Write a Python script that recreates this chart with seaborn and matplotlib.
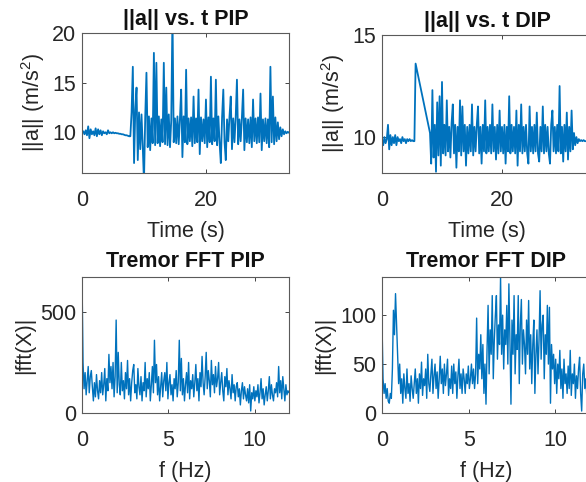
import numpy as np
import matplotlib
matplotlib.use("Agg")
import matplotlib.pyplot as plt
import seaborn as sns

# ---- data ----
# ||a|| PIP, sampled every 0.2 s from t = 0
pip_dt = 0.2
pip_acc = [
    9.9, 10.1, 9.8, 10.2, 9.7, 10.6, 9.4, 10.3, 9.8, 10.1,
    9.7, 10.4, 9.6, 10.3, 9.8, 10.2, 9.7, 10.1, 9.9, 10.0,
    9.8, 10.2, 9.9, 10.0, 9.9, 10.0, 9.9, 9.95, 9.9, 9.9,
    9.85, 9.85, 9.8, 9.8, 9.75, 9.7, 9.7, 9.65, 9.6, 9.6,
    12.0, 16.6, 6.9, 12.3, 14.5, 7.2, 12.0, 8.3, 11.8, 8.6,
    5.0, 11.5, 16.0, 8.5, 11.6, 8.2, 11.4, 8.9, 18.0, 8.7,
    17.0, 8.9, 11.6, 8.6, 11.3, 9.0, 17.0, 8.8, 14.5, 8.7,
    11.8, 8.5, 11.2, 22.0, 9.0, 11.4, 8.9, 11.6, 8.8, 11.3,
    14.3, 7.5, 11.6, 9.0, 16.3, 8.8, 11.4, 9.1, 11.5, 8.6,
    13.6, 8.9, 11.4, 9.0, 14.3, 7.8, 11.5, 9.1, 11.3, 8.9,
    13.3, 8.5, 11.5, 9.0, 15.6, 8.8, 11.4, 9.1, 15.3, 8.7,
    11.6, 8.9, 6.9, 11.5, 14.3, 9.0, 7.2, 11.3, 9.1, 11.6,
    13.6, 8.3, 11.4, 9.0, 11.5, 15.3, 8.8, 11.3, 9.1, 11.5,
    14.3, 8.2, 11.4, 9.0, 11.3, 8.9, 11.5, 8.5, 13.3, 9.1,
    11.4, 8.9, 11.5, 9.0, 13.9, 8.2, 11.3, 9.1, 11.4, 8.9,
    11.3, 8.5, 16.6, 9.0, 13.6, 8.8, 11.5, 9.1, 11.0, 9.3,
    10.5, 9.6, 10.3, 9.8, 10.1, 9.9, 10.05, 9.95,
]

# ||a|| DIP: two recorded stretches with a gap between 5.6 s and 8.0 s
dip_dt = 0.2
dip_start_a = 0.0
dip_acc_a = [
    9.8, 9.6, 10.0, 9.7, 9.9, 10.6, 9.4, 10.1, 9.6, 10.0,
    9.7, 10.1, 9.6, 10.0, 9.8, 9.9, 9.7, 10.0, 9.8, 9.9,
    9.7, 9.9, 9.8, 9.9, 9.8, 9.85, 9.8, 9.8, 13.6,
]
dip_start_b = 8.0
dip_acc_b = [
    10.2, 8.7, 12.3, 9.0, 10.6, 8.3, 11.7, 9.1, 12.0, 8.6,
    12.7, 9.2, 10.6, 9.1, 11.8, 9.3, 10.5, 9.0, 10.7, 11.6,
    9.2, 10.6, 8.5, 10.5, 9.3, 11.8, 9.1, 11.5, 9.3, 10.6,
    8.6, 10.5, 9.2, 10.6, 9.3, 11.6, 9.1, 10.5, 9.3, 10.6,
    11.5, 9.2, 10.5, 8.7, 10.6, 9.3, 11.8, 9.2, 10.5, 9.3,
    10.6, 9.2, 11.6, 9.3, 10.5, 8.9, 10.6, 9.2, 11.3, 9.3,
    10.5, 9.2, 10.6, 8.7, 10.5, 9.3, 12.0, 9.2, 10.6, 9.3,
    10.5, 9.2, 11.3, 8.6, 10.6, 9.3, 11.6, 9.2, 10.5, 9.3,
    10.6, 9.2, 8.7, 11.5, 9.3, 10.5, 9.2, 10.6, 9.3, 11.2,
    9.2, 8.8, 10.5, 9.3, 11.5, 9.2, 10.6, 9.3, 10.5, 9.2,
    8.7, 10.6, 11.3, 9.3, 10.5, 9.2, 10.6, 9.3, 12.5, 9.2,
    10.5, 8.8, 10.6, 9.3, 11.2, 8.9, 10.5, 9.3, 11.3, 9.4,
    10.2, 9.6, 10.0, 9.7, 9.9, 9.8, 9.85, 9.8, 9.85, 9.8,
    9.8,
]

# |fft(X)|, sampled every 0.06 Hz from 0
fft_df = 0.06
fft_pip = [
    673, 250, 120, 200, 90, 160, 230, 100, 180, 210,
    130, 60, 150, 80, 190, 110, 70, 160, 100, 200,
    90, 140, 220, 60, 170, 110, 290, 150, 230, 120,
    250, 80, 180, 460, 100, 300, 140, 90, 250, 110,
    160, 70, 200, 120, 260, 90, 170, 60, 150, 210,
    240, 100, 140, 70, 220, 130, 90, 180, 60, 150,
    110, 250, 80, 170, 120, 200, 60, 140, 230, 100,
    360, 150, 240, 90, 180, 60, 130, 200, 80, 160,
    200, 110, 250, 70, 150, 190, 90, 140, 60, 170,
    120, 210, 80, 150, 360, 110, 270, 90, 170, 60,
    140, 200, 100, 250, 70, 160, 120, 190, 80, 150,
    240, 110, 170, 60, 200, 130, 280, 150, 90, 180,
    300, 120, 210, 160, 80, 260, 140, 190, 100, 230,
    130, 170, 250, 90, 150, 200, 110, 60, 180, 130,
    220, 90, 160, 120, 70, 190, 100, 140, 60, 130,
    150, 80, 120, 40, 110, 150, 70, 130, 90, 60,
    120, 50, 140, 10, 100, 70, 130, 60, 110, 80,
    140, 50, 100, 170, 70, 120, 40, 90, 130, 60,
    110, 180, 70, 140, 90, 60, 120, 100, 150, 80,
    230, 100, 160, 70, 180, 120, 60, 140, 90, 110,
    100,
]
fft_dip = [
    92, 35, 20, 30, 15, 25, 12, 10, 20, 15,
    45, 105, 80, 122, 90, 60, 30, 50, 20, 35,
    10, 40, 25, 15, 45, 20, 30, 12, 38, 25,
    15, 30, 45, 20, 35, 10, 40, 25, 52, 18,
    35, 28, 45, 15, 60, 30, 22, 40, 55, 20,
    38, 50, 25, 42, 15, 35, 58, 30, 45, 20,
    50, 28, 40, 55, 18, 35, 25, 48, 20, 50,
    30, 42, 15, 38, 55, 25, 40, 20, 45, 35,
    20, 40, 30, 48, 25, 35, 50, 30, 45, 25,
    40, 97, 30, 60, 45, 80, 35, 70, 20, 50,
    9, 65, 110, 40, 85, 60, 120, 35, 75, 100,
    120, 55, 90, 70, 139, 60, 100, 45, 85, 70,
    110, 50, 132, 75, 9, 95, 60, 120, 40, 80,
    65, 120, 30, 90, 116, 50, 85, 70, 40, 95,
    60, 115, 45, 80, 30, 70, 95, 20, 60, 85,
    40, 75, 125, 55, 90, 100, 35, 80, 60, 110,
    50, 108, 10, 70, 45, 60, 30, 55, 20, 50,
    35, 64, 25, 45, 15, 55, 30, 40, 20, 48,
    25, 64, 18, 40, 30, 50, 15, 38, 25, 45,
    57, 20, 2, 40, 50, 25, 35, 15, 40, 30,
    35,
]

pip_t = pip_dt * np.arange(len(pip_acc))
dip_t = np.concatenate([dip_start_a + dip_dt * np.arange(len(dip_acc_a)),
                        dip_start_b + dip_dt * np.arange(len(dip_acc_b))])
dip_acc = dip_acc_a + dip_acc_b
f_pip = fft_df * np.arange(len(fft_pip))
f_dip = fft_df * np.arange(len(fft_dip))

# ---- style ----
sns.set_style("white")
plt.rcParams['font.family'] = ['Liberation Sans', 'DejaVu Sans']
plt.rcParams['mathtext.fontset'] = 'custom'
plt.rcParams['mathtext.rm'] = 'Liberation Sans'
plt.rcParams['mathtext.it'] = 'Liberation Sans'
plt.rcParams['mathtext.default'] = 'regular'

line_col = '#0072BD'
ink = '#262626'
fs = 15.5
W, H = 586, 482
fig = plt.figure(figsize=(W / 100, H / 100), dpi=100)


def make_ax(left, top, width, height):
    return fig.add_axes([left / W, 1 - (top + height) / H, width / W, height / H])


panels = [
    # (left, top, width, height), x, y, title, xlabel, ylabel, xlim, ylim, xticks, yticks
    ((82, 33, 207, 140), pip_t, pip_acc, '||a|| vs. t PIP', 'Time (s)',
     '||a|| (m/s$^2$)', (0, 33.4), (5.9, 20), [0, 20], [10, 15, 20]),
    ((382, 35, 210, 138), dip_t, dip_acc, '||a|| vs. t DIP', 'Time (s)',
     '||a|| (m/s$^2$)', (0, 35), (8.24, 15), [0, 20], [10, 15]),
    ((82, 277, 207, 136), f_pip, fft_pip, 'Tremor FFT PIP', 'f (Hz)',
     '|fft(X)|', (0, 12), (0, 673), [0, 5, 10], [0, 500]),
    ((382, 277, 208, 136), f_dip, fft_dip, 'Tremor FFT DIP', 'f (Hz)',
     '|fft(X)|', (0, 12), (0, 139), [0, 5, 10], [0, 50, 100]),
]

for i, (box, xs, ys, title, xl, yl, xlim, ylim, xt, yt) in enumerate(panels):
    ax = make_ax(*box)
    sns.lineplot(x=xs, y=ys, ax=ax, color=line_col,
                 linewidth=1.3 if i < 2 else 1.0,
                 sort=False, estimator=None)
    ax.set_xlim(*xlim)
    ax.set_ylim(*ylim)
    ax.set_xticks(xt)
    ax.set_yticks(yt)
    ax.tick_params(axis='x', direction='in', length=3, width=0.6, top=True,
                   bottom=True, pad=12.5, labelsize=fs, colors=ink)
    ax.tick_params(axis='y', direction='in', length=3, width=0.6, left=True,
                   right=True, pad=4, labelsize=fs, colors=ink)
    for sp in ax.spines.values():
        sp.set_color('#5a5a5a')
        sp.set_linewidth(0.8)
    ax.set_title(title, fontsize=fs, fontweight='bold', color='#111111',
                 pad=5.5 if i < 2 else 7)
    ax.set_xlabel(xl, fontsize=fs, color=ink, labelpad=7)
    ax.set_ylabel(yl, fontsize=fs, color=ink, labelpad=4)

fig.savefig('out.png', dpi=100)
